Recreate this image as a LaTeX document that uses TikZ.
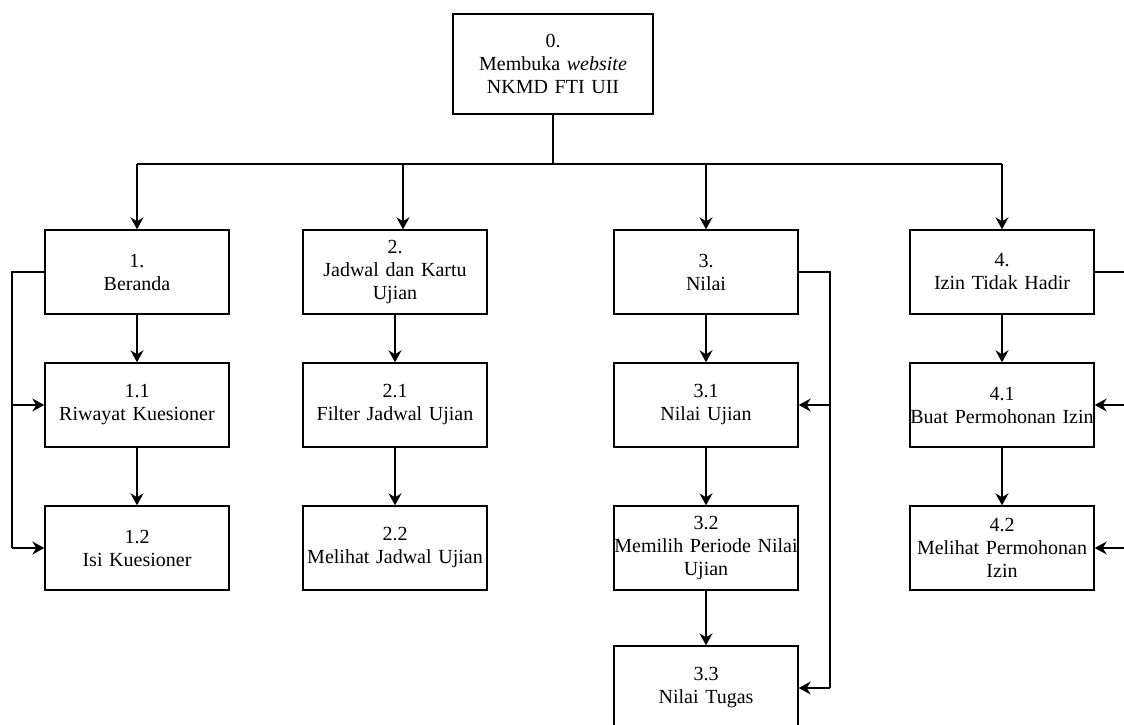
\documentclass[tikz,border=0pt]{standalone}
\usepackage{fontspec}
\setmainfont{Liberation Serif}
\usetikzlibrary{arrows.meta}
\begin{document}
\begin{tikzpicture}[x=1pt,y=-1pt,
  box/.style={draw, line width=1.4pt, fill=white, text width=184pt, inner xsep=0pt, inner ysep=0pt,
    minimum height=84pt, align=center, font=\fontsize{20}{23}\selectfont},
  topbox/.style={box, text width=200pt, minimum height=100pt},
  conn/.style={line width=1.4pt},
  arr/.style={conn, -{Stealth[length=12pt,width=13pt,inset=4pt]}}]
\fill[white] (0,0) rectangle (1124,725);
\useasboundingbox (0,0) rectangle (1124,725);
\clip (0,0) rectangle (1124,725);

\node[topbox] (n0) at (553,64) {0.\\Membuka \textit{website}\\NKMD FTI UII};

\node[box] (n1) at (137,272) {1.\\Beranda};
\node[box] (n11) at (137,405) {1.1\\Riwayat Kuesioner};
\node[box] (n12) at (137,548) {1.2\\Isi Kuesioner};

\node[box] (n2) at (395,272) {2.\\Jadwal dan Kartu\\Ujian};
\node[box] (n21) at (395,405) {2.1\\Filter Jadwal Ujian};
\node[box] (n22) at (395,548) {2.2\\Melihat Jadwal Ujian};

\node[box] (n3) at (706,272) {3.\\Nilai};
\node[box] (n31) at (706,405) {3.1\\Nilai Ujian};
\node[box] (n32) at (706,548) {3.2\\Memilih Periode Nilai\\Ujian};
\node[box] (n33) at (706,688) {3.3\\Nilai Tugas};

\node[box] (n4) at (1002,272) {4.\\Izin Tidak Hadir};
\node[box] (n41) at (1002,405) {4.1\\Buat Permohonan Izin};
\node[box] (n42) at (1002,548) {4.2\\Melihat Permohonan\\Izin};

% bus
\coordinate (bus) at (553,164);
\coordinate (busL) at (137,164);
\coordinate (busR) at (1002,164);
\coordinate (bus2) at (403,164);
\draw[conn] (n0.south) -- (bus);
\draw[conn] (busL) -- (busR);
\draw[arr] (busL) -- (n1.north);
\draw[arr] (bus2) -- (bus2 |- n2.north);
\draw[arr] (bus -| n3.north) -- (n3.north);
\draw[arr] (busR) -- (n4.north);

% vertical chains
\draw[arr] (n1) -- (n11);
\draw[arr] (n11) -- (n12);
\draw[arr] (n2) -- (n21);
\draw[arr] (n21) -- (n22);
\draw[arr] (n3) -- (n31);
\draw[arr] (n31) -- (n32);
\draw[arr] (n32) -- (n33);
\draw[arr] (n4) -- (n41);
\draw[arr] (n41) -- (n42);

% left loop of 1
\coordinate (l1) at (12,272);
\coordinate (l2) at (12,548);
\draw[conn] (n1.west) -- (l1) -- (l2);
\draw[arr] (l1 |- n11.west) -- (n11.west);
\draw[arr] (l2) -- (n12.west);

% right loop of 3
\coordinate (r1) at (830,272);
\coordinate (r2) at (830,688);
\draw[conn] (n3.east) -- (r1) -- (r2);
\draw[arr] (r1 |- n31.east) -- (n31.east);
\draw[arr] (r2) -- (n33.east);

% right loop of 4 (off page)
\coordinate (q1) at (1140,272);
\coordinate (q2) at (1140,548);
\draw[conn] (n4.east) -- (q1) -- (q2);
\draw[arr] (q1 |- n41.east) -- (n41.east);
\draw[arr] (q2) -- (n42.east);
\end{tikzpicture}
\end{document}
